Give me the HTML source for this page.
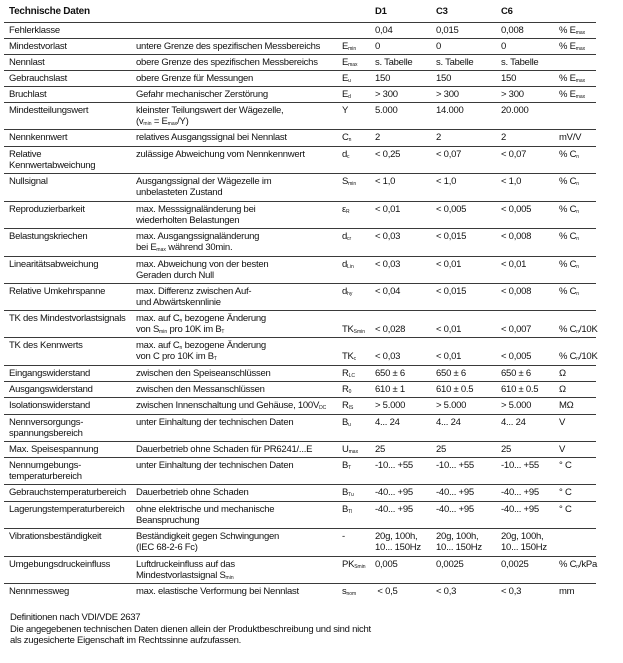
<!DOCTYPE html>
<html><head><meta charset="utf-8"><style>
body{margin:0;background:#fff;}
#p{position:relative;width:623px;height:663px;overflow:hidden;font-family:"Liberation Sans",sans-serif;font-size:9.5px;letter-spacing:-0.25px;color:#111;}
.l{position:absolute;left:4px;width:592px;height:1.4px;background:#3a3a3a;}
.r{position:absolute;left:0;width:623px;line-height:11px;}
.r span{position:absolute;white-space:nowrap;}
.a{left:9px}.b{left:136px}.c{left:342px}.d{left:375px}.e{left:436px}.f{left:501px}.g{left:559px}
sub{font-size:5px;vertical-align:-1px;letter-spacing:0;line-height:0}
b{font-weight:bold}
.ft{position:absolute;left:10px;top:612px;line-height:11.5px;}
</style></head><body><div id="p">
<div class="r" style="top:6px"><span class="a" style="font-size:10px"><b>Technische Daten</b></span><span class="d"><b>D1</b></span><span class="e"><b>C3</b></span><span class="f"><b>C6</b></span></div>
<div class="l" style="top:22px"></div><div class="l" style="top:38px"></div><div class="l" style="top:54px"></div><div class="l" style="top:70px"></div><div class="l" style="top:86px"></div><div class="l" style="top:102px"></div><div class="l" style="top:129px"></div><div class="l" style="top:146px"></div><div class="l" style="top:173px"></div><div class="l" style="top:201px"></div><div class="l" style="top:228px"></div><div class="l" style="top:256px"></div><div class="l" style="top:283px"></div><div class="l" style="top:310px"></div><div class="l" style="top:337px"></div><div class="l" style="top:365px"></div><div class="l" style="top:381px"></div><div class="l" style="top:397px"></div><div class="l" style="top:414px"></div><div class="l" style="top:441px"></div><div class="l" style="top:457px"></div><div class="l" style="top:484px"></div><div class="l" style="top:501px"></div><div class="l" style="top:528px"></div><div class="l" style="top:556px"></div><div class="l" style="top:583px"></div>

<div class="r" style="top:25px"><span class="a">Fehlerklasse</span><span class="d">0,04</span><span class="e">0,015</span><span class="f">0,008</span><span class="g">% E<sub>max</sub></span></div>
<div class="r" style="top:41px"><span class="a">Mindestvorlast</span><span class="b">untere Grenze des spezifischen Messbereichs</span><span class="c">E<sub>min</sub></span><span class="d">0</span><span class="e">0</span><span class="f">0</span><span class="g">% E<sub>max</sub></span></div>
<div class="r" style="top:57px"><span class="a">Nennlast</span><span class="b">obere Grenze des spezifischen Messbereichs</span><span class="c">E<sub>max</sub></span><span class="d">s. Tabelle</span><span class="e">s. Tabelle</span><span class="f">s. Tabelle</span></div>
<div class="r" style="top:73px"><span class="a">Gebrauchslast</span><span class="b">obere Grenze für Messungen</span><span class="c">E<sub>u</sub></span><span class="d">150</span><span class="e">150</span><span class="f">150</span><span class="g">% E<sub>max</sub></span></div>
<div class="r" style="top:89px"><span class="a">Bruchlast</span><span class="b">Gefahr mechanischer Zerstörung</span><span class="c">E<sub>d</sub></span><span class="d">&gt; 300</span><span class="e">&gt; 300</span><span class="f">&gt; 300</span><span class="g">% E<sub>max</sub></span></div>
<div class="r" style="top:105px"><span class="a">Mindestteilungswert</span><span class="b">kleinster Teilungswert der Wägezelle,<br>(v<sub>min</sub> = E<sub>max</sub>/Y)</span><span class="c">Y</span><span class="d">5.000</span><span class="e">14.000</span><span class="f">20.000</span></div>
<div class="r" style="top:132px"><span class="a">Nennkennwert</span><span class="b">relatives Ausgangssignal bei Nennlast</span><span class="c">C<sub>n</sub></span><span class="d">2</span><span class="e">2</span><span class="f">2</span><span class="g">mV/V</span></div>
<div class="r" style="top:149px"><span class="a">Relative<br>Kennwertabweichung</span><span class="b">zulässige Abweichung vom Nennkennwert</span><span class="c">d<sub>c</sub></span><span class="d">&lt; 0,25</span><span class="e">&lt; 0,07</span><span class="f">&lt; 0,07</span><span class="g">% C<sub>n</sub></span></div>
<div class="r" style="top:176px"><span class="a">Nullsignal</span><span class="b">Ausgangssignal der Wägezelle im<br>unbelasteten Zustand</span><span class="c">S<sub>min</sub></span><span class="d">&lt; 1,0</span><span class="e">&lt; 1,0</span><span class="f">&lt; 1,0</span><span class="g">% C<sub>n</sub></span></div>
<div class="r" style="top:204px"><span class="a">Reproduzierbarkeit</span><span class="b">max. Messsignaländerung bei<br>wiederholten Belastungen</span><span class="c">ε<sub>R</sub></span><span class="d">&lt; 0,01</span><span class="e">&lt; 0,005</span><span class="f">&lt; 0,005</span><span class="g">% C<sub>n</sub></span></div>
<div class="r" style="top:231px"><span class="a">Belastungskriechen</span><span class="b">max. Ausgangssignaländerung<br>bei E<sub>max</sub> während 30min.</span><span class="c">d<sub>cr</sub></span><span class="d">&lt; 0,03</span><span class="e">&lt; 0,015</span><span class="f">&lt; 0,008</span><span class="g">% C<sub>n</sub></span></div>
<div class="r" style="top:259px"><span class="a">Linearitätsabweichung</span><span class="b">max. Abweichung von der besten<br>Geraden durch Null</span><span class="c">d<sub>Lin</sub></span><span class="d">&lt; 0,03</span><span class="e">&lt; 0,01</span><span class="f">&lt; 0,01</span><span class="g">% C<sub>n</sub></span></div>
<div class="r" style="top:286px"><span class="a">Relative Umkehrspanne</span><span class="b">max. Differenz zwischen Auf-<br>und Abwärtskennlinie</span><span class="c">d<sub>hy</sub></span><span class="d">&lt; 0,04</span><span class="e">&lt; 0,015</span><span class="f">&lt; 0,008</span><span class="g">% C<sub>n</sub></span></div>
<div class="r" style="top:313px"><span class="a">TK des Mindestvorlastsignals</span><span class="b">max. auf C<sub>n</sub> bezogene Änderung<br>von S<sub>min</sub> pro 10K im B<sub>T</sub></span><span class="c"><br>TK<sub>Smin</sub></span><span class="d"><br>&lt; 0,028</span><span class="e"><br>&lt; 0,01</span><span class="f"><br>&lt; 0,007</span><span class="g"><br>% C<sub>n</sub>/10K</span></div>
<div class="r" style="top:340px"><span class="a">TK des Kennwerts</span><span class="b">max. auf C<sub>n</sub> bezogene Änderung<br>von C pro 10K im B<sub>T</sub></span><span class="c"><br>TK<sub>c</sub></span><span class="d"><br>&lt; 0,03</span><span class="e"><br>&lt; 0,01</span><span class="f"><br>&lt; 0,005</span><span class="g"><br>% C<sub>n</sub>/10K</span></div>
<div class="r" style="top:368px"><span class="a">Eingangswiderstand</span><span class="b">zwischen den Speiseanschlüssen</span><span class="c">R<sub>LC</sub></span><span class="d">650 ± 6</span><span class="e">650 ± 6</span><span class="f">650 ± 6</span><span class="g">Ω</span></div>
<div class="r" style="top:384px"><span class="a">Ausgangswiderstand</span><span class="b">zwischen den Messanschlüssen</span><span class="c">R<sub>0</sub></span><span class="d">610 ± 1</span><span class="e">610 ± 0.5</span><span class="f">610 ± 0.5</span><span class="g">Ω</span></div>
<div class="r" style="top:400px"><span class="a">Isolationswiderstand</span><span class="b">zwischen Innenschaltung und Gehäuse, 100V<sub>DC</sub></span><span class="c">R<sub>IS</sub></span><span class="d">&gt; 5.000</span><span class="e">&gt; 5.000</span><span class="f">&gt; 5.000</span><span class="g">MΩ</span></div>
<div class="r" style="top:417px"><span class="a">Nennversorgungs-<br>spannungsbereich</span><span class="b">unter Einhaltung der technischen Daten</span><span class="c">B<sub>u</sub></span><span class="d">4... 24</span><span class="e">4... 24</span><span class="f">4... 24</span><span class="g">V</span></div>
<div class="r" style="top:444px"><span class="a">Max. Speisespannung</span><span class="b">Dauerbetrieb ohne Schaden für PR6241/...E</span><span class="c">U<sub>max</sub></span><span class="d">25</span><span class="e">25</span><span class="f">25</span><span class="g">V</span></div>
<div class="r" style="top:460px"><span class="a">Nennumgebungs-<br>temperaturbereich</span><span class="b">unter Einhaltung der technischen Daten</span><span class="c">B<sub>T</sub></span><span class="d">-10... +55</span><span class="e">-10... +55</span><span class="f">-10... +55</span><span class="g">° C</span></div>
<div class="r" style="top:487px"><span class="a">Gebrauchstemperaturbereich</span><span class="b">Dauerbetrieb ohne Schaden</span><span class="c">B<sub>Tu</sub></span><span class="d">-40... +95</span><span class="e">-40... +95</span><span class="f">-40... +95</span><span class="g">° C</span></div>
<div class="r" style="top:504px"><span class="a">Lagerungstemperaturbereich</span><span class="b">ohne elektrische und mechanische<br>Beanspruchung</span><span class="c">B<sub>Tl</sub></span><span class="d">-40... +95</span><span class="e">-40... +95</span><span class="f">-40... +95</span><span class="g">° C</span></div>
<div class="r" style="top:531px"><span class="a">Vibrationsbeständigkeit</span><span class="b">Beständigkeit gegen Schwingungen<br>(IEC 68-2-6 Fc)</span><span class="c">-</span><span class="d">20g, 100h,<br>10... 150Hz</span><span class="e">20g, 100h,<br>10... 150Hz</span><span class="f">20g, 100h,<br>10... 150Hz</span></div>
<div class="r" style="top:559px"><span class="a">Umgebungsdruckeinfluss</span><span class="b">Luftdruckeinfluss auf das<br>Mindestvorlastsignal S<sub>min</sub></span><span class="c">PK<sub>Smin</sub></span><span class="d">0,005</span><span class="e">0,0025</span><span class="f">0,0025</span><span class="g">% C<sub>n</sub>/kPa</span></div>
<div class="r" style="top:586px"><span class="a">Nennmessweg</span><span class="b">max. elastische Verformung bei Nennlast</span><span class="c">s<sub>nom</sub></span><span class="d">&nbsp;&lt; 0,5</span><span class="e">&lt; 0,3</span><span class="f">&lt; 0,3</span><span class="g">mm</span></div>
<div class="ft">Definitionen nach VDI/VDE 2637<br>Die angegebenen technischen Daten dienen allein der Produktbeschreibung und sind nicht<br>als zugesicherte Eigenschaft im Rechtssinne aufzufassen.</div>
</div></body></html>
